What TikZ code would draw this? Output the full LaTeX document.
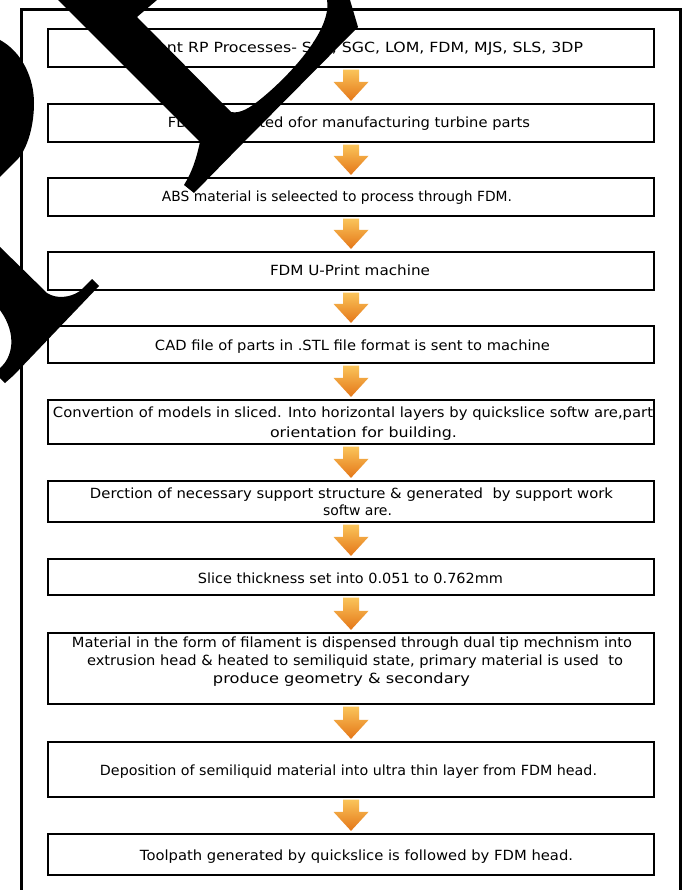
\documentclass[tikz,border=0pt]{standalone}
\usepackage{graphicx}
\usepackage{fontspec}
\setmainfont{DejaVu Sans}
\usetikzlibrary{calc}
\definecolor{arrowtop}{RGB}{250,196,90}
\definecolor{arrowbot}{RGB}{228,118,24}
\newcommand{\flowarrow}[2]{%
  \path[top color=arrowtop, bottom color=arrowbot, draw=none]
    let \p1=(#1.south), \p2=(#2.north) in
    (\x1-8pt,\y1-1.5pt) -- (\x1+8pt,\y1-1.5pt) -- (\x1+8pt,\y2+21pt)
    -- (\x1+17.5pt,\y2+21pt) -- (\x1,\y2+2pt) -- (\x1-17.5pt,\y2+21pt)
    -- (\x1-8pt,\y2+21pt) -- cycle;}
\newcommand{\fitline}[2]{\resizebox{#1pt}{\height}{#2}}
\begin{document}
\begin{tikzpicture}[x=1pt,y=-1pt,
  box/.style={draw=black, line width=2.2pt, fill=white, inner sep=0pt, minimum width=606pt},
  txt/.style={font=\fontsize{14}{18}\selectfont, inner sep=0pt, anchor=base},
  blob/.style={fill=black, draw=none}]
\useasboundingbox (0,0) rectangle (685,890);
\fill[white] (0,0) rectangle (685,890);
\draw[line width=3pt] (21,895) -- (21,10) -- (680,10) -- (680,895);

% boxes
\node[box, minimum height=38pt] (b1) at (351,48) {};
\node[box, minimum height=38pt] (b2) at (351,123) {};
\node[box, minimum height=38pt] (b3) at (351,197) {};
\node[box, minimum height=38pt] (b4) at (351,271) {};
\node[box, minimum height=37pt] (b5) at (351,344.5) {};
\node[box, minimum height=44pt] (b6) at (351,422) {};
\node[box, minimum height=41pt] (b7) at (351,501.5) {};
\node[box, minimum height=36pt] (b8) at (351,577) {};
\node[box, minimum height=71pt] (b9) at (351,668.5) {};
\node[box, minimum height=55pt] (b10) at (351,769.5) {};
\node[box, minimum height=41pt] (b11) at (351,854.5) {};

% texts
\node[txt] (t1) at (348.5,53) {\fitline{469}{Different RP Processes- SLA, SGC, LOM, FDM, MJS, SLS, 3DP}};
\node[txt] (t2) at (349,128) {\fitline{362}{FDM is selected ofor manufacturing turbine parts}};
\node[txt] (t3) at (337,202) {\fitline{350}{ABS material is seleected to process through FDM.}};
\node[txt] (t4) at (350,276) {\fitline{160}{FDM U-Print machine}};
\node[txt] (t5) at (352.5,350) {\fitline{395}{CAD file of parts in .STL file format is sent to machine}};
\node[txt] (t6a) at (353,417) {\fitline{600}{Convertion of models in sliced. Into horizontal layers by quickslice softw are,part}};
\node[txt] (t6b) at (363.5,437) {\fitline{187}{orientation for building.}};
\node[txt] (t7a) at (351.5,498) {\fitline{523}{Derction of necessary support structure \& generated\ \ by support work}};
\node[txt] (t7b) at (357.5,515) {\fitline{69}{softw are.}};
\node[txt] (t8) at (350.5,583) {\fitline{305}{Slice thickness set into 0.051 to 0.762mm}};
\node[txt] (t9a) at (352,647) {\fitline{560}{Material in the form of filament is dispensed through dual tip mechnism into}};
\node[txt] (t9b) at (355,665) {\fitline{536}{extrusion head \& heated to semiliquid state, primary material is used\ \ to}};
\node[txt] (t9c) at (341.5,683) {\fitline{257}{produce geometry \& secondary}};
\node[txt] (t10) at (348.5,775) {\fitline{497}{Deposition of semiliquid material into ultra thin layer from FDM head.}};
\node[txt] (t11) at (356.5,860) {\fitline{433}{Toolpath generated by quickslice is followed by FDM head.}};

% arrows
\flowarrow{b1}{b2}
\flowarrow{b2}{b3}
\flowarrow{b3}{b4}
\flowarrow{b4}{b5}
\flowarrow{b5}{b6}
\flowarrow{b6}{b7}
\flowarrow{b7}{b8}
\flowarrow{b8}{b9}
\flowarrow{b9}{b10}
\flowarrow{b10}{b11}

% black overlay shapes
\fill[blob] (58,0) -- (200,142) .. controls (196,160) and (192,172) .. (184,185)
  -- (194,193) -- (243,143) -- (358,27) -- (350,0) -- (327,0)
  .. controls (332,30) and (290,75) .. (262,98)
  .. controls (250,108) and (240,114) .. (231,112)
  -- (137,17) -- (157,0) -- cycle;
\fill[blob] (0,40) .. controls (22,52) and (34,78) .. (34,103)
  .. controls (34,125) and (28,148) .. (17,160) -- (0,177) -- cycle;
\fill[blob] (0,247) -- (47,293) .. controls (56,299) and (70,298) .. (80,291)
  -- (92,279) -- (99,286) -- (14,375) -- (5,383) -- (0,378) -- (0,368)
  .. controls (12,358) and (18,335) .. (0,310) -- cycle;
\end{tikzpicture}
\end{document}
